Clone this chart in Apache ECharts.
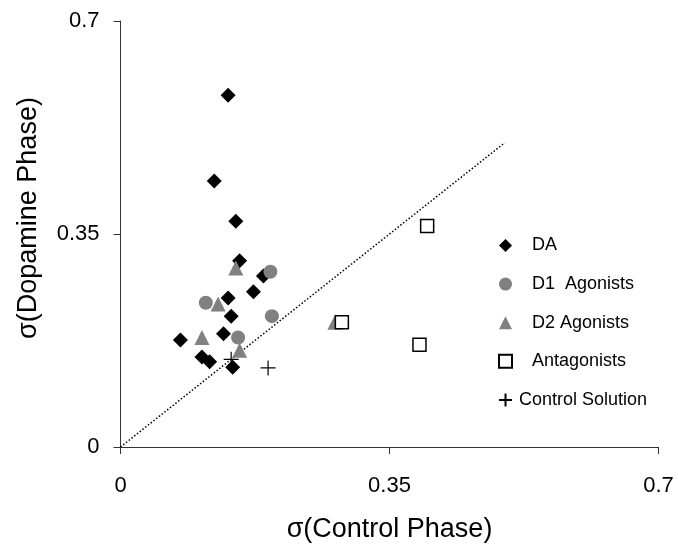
<!DOCTYPE html>
<html>
<head>
<meta charset="utf-8">
<script src="https://cdn.jsdelivr.net/npm/echarts@6/dist/echarts.min.js"></script>
<style>
html, body { margin: 0; padding: 0; background: #fff; }
#chart { width: 678px; height: 548px; }
</style>
</head>
<body>
<div id="chart"></div>
<script>
// data: [σ control, σ dopamine]
const daPoints = [
    [0.140, 0.578], [0.122, 0.437], [0.150, 0.371], [0.155, 0.306],
    [0.186, 0.281], [0.173, 0.255], [0.140, 0.245], [0.144, 0.215],
    [0.134, 0.186], [0.078, 0.176], [0.106, 0.148], [0.116, 0.140],
    [0.146, 0.131]
];
const d1Points = [[0.195, 0.288], [0.111, 0.237], [0.197, 0.215], [0.153, 0.180]];
const d2Points = [[0.150, 0.294], [0.127, 0.235], [0.106, 0.180], [0.155, 0.159], [0.279, 0.205]];
const antagonistPoints = [[0.399, 0.363], [0.288, 0.205], [0.389, 0.168]];
const controlPoints = [[0.144, 0.144], [0.192, 0.130]];
const identityLine = [[0, 0], [0.5, 0.5]];
const axisTicks = [0, 0.35, 0.7];

const font = 'Liberation Sans, Arial, sans-serif';
const plusPath = 'path://M0,5 L10,5 M5,0 L5,10';
const labelFmt = v => String(+v.toFixed(2));

const chart = echarts.init(document.getElementById('chart'));
chart.setOption({
    animation: false,
    backgroundColor: '#fff',
    textStyle: { fontFamily: font, color: '#000' },
    grid: { left: 120.5, right: 19.5, top: 21, bottom: 101 },
    legend: {
        orient: 'vertical',
        left: 496.5,
        top: 236.5,
        padding: 0,
        itemWidth: 13,
        itemHeight: 13,
        itemGap: 20.6,
        textStyle: { fontFamily: font, fontSize: 18, color: '#000' },
        data: [
            { name: 'DA', textStyle: { padding: [0, 0, 0, 15] } },
            { name: 'D1  Agonists', textStyle: { padding: [0, 0, 0, 15] } },
            { name: 'D2 Agonists', textStyle: { padding: [0, 0, 0, 15] } },
            { name: 'Antagonists', textStyle: { padding: [0, 0, 0, 15] } },
            { name: 'Control Solution', textStyle: { padding: [0, 0, 0, 2] } }
        ]
    },
    xAxis: {
        type: 'value',
        min: axisTicks[0],
        max: axisTicks[2],
        interval: 0.35,
        name: 'σ(Control Phase)',
        nameLocation: 'middle',
        nameGap: 69,
        nameTextStyle: { fontFamily: font, fontSize: 27, color: '#000' },
        axisLine: { lineStyle: { color: '#333', width: 1 } },
        axisTick: { length: 7, lineStyle: { color: '#333' } },
        axisLabel: { margin: 28, fontSize: 22, color: '#000', formatter: labelFmt },
        splitLine: { show: false }
    },
    yAxis: {
        type: 'value',
        min: axisTicks[0],
        max: axisTicks[2],
        interval: 0.35,
        name: 'σ(Dopamine Phase)',
        nameLocation: 'middle',
        nameGap: 78,
        nameTextStyle: { fontFamily: font, fontSize: 27, color: '#000', padding: [0, 0, 0, 32] },
        axisLine: { show: true, lineStyle: { color: '#333', width: 1 } },
        axisTick: { show: true, length: 7, lineStyle: { color: '#333' } },
        axisLabel: { margin: 21, fontSize: 22, color: '#000', formatter: labelFmt },
        splitLine: { show: false }
    },
    series: [
        {
            name: 'y = x',
            type: 'line',
            data: identityLine,
            symbol: 'none',
            lineStyle: { color: '#000', width: 1.5, type: [1.5, 2] },
            z: 1
        },
        {
            name: 'DA',
            type: 'scatter',
            symbol: 'diamond',
            symbolSize: 15,
            data: daPoints,
            itemStyle: { color: '#000', opacity: 1 }
        },
        {
            name: 'D1  Agonists',
            type: 'scatter',
            symbol: 'circle',
            symbolSize: 14,
            data: d1Points,
            itemStyle: { color: '#808080', opacity: 1 }
        },
        {
            name: 'D2 Agonists',
            type: 'scatter',
            symbol: 'triangle',
            symbolSize: 15,
            data: d2Points,
            itemStyle: { color: '#808080', opacity: 1 }
        },
        {
            name: 'Antagonists',
            type: 'scatter',
            symbol: 'rect',
            symbolSize: 13,
            data: antagonistPoints,
            itemStyle: { color: '#fff', borderColor: '#000', borderWidth: 1.5, opacity: 1 }
        },
        {
            name: 'Control Solution',
            type: 'scatter',
            symbol: plusPath,
            symbolSize: 15,
            data: controlPoints,
            itemStyle: { color: 'none', borderColor: '#000', borderWidth: 1.2, opacity: 1 }
        }
    ]
});
</script>
</body>
</html>
